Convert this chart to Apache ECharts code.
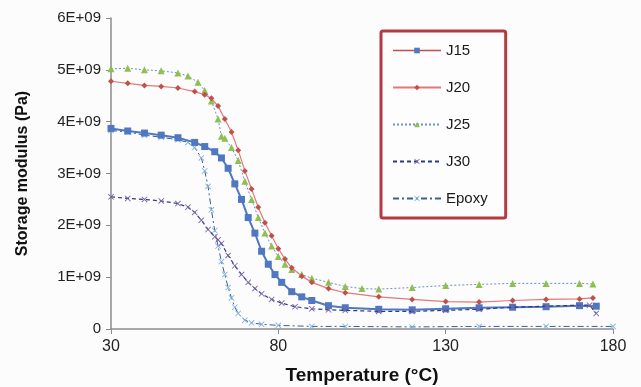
<!DOCTYPE html>
<html>
<head>
<meta charset="utf-8">
<script src="https://cdn.jsdelivr.net/npm/echarts@6/dist/echarts.min.js"></script>
<style>
  html, body { margin: 0; padding: 0; background: #fcfcfc; }
  #chart { width: 641px; height: 387px; }
</style>
</head>
<body>
<div id="chart"></div>
<script>
// temperatures (°C) and storage modulus (Pa)
const j15Temp = [30, 35, 40, 45, 50, 55, 58, 61, 63, 65, 67, 69, 71, 73, 75, 77, 79, 81, 84, 87, 90, 95, 100, 110, 120, 130, 140, 150, 160, 170, 175];
const j15Val = [3.87e9, 3.82e9, 3.78e9, 3.74e9, 3.69e9, 3.6e9, 3.52e9, 3.42e9, 3.3e9, 3.1e9, 2.8e9, 2.5e9, 2.15e9, 1.85e9, 1.5e9, 1.25e9, 1.05e9, 0.9e9, 0.72e9, 0.62e9, 0.55e9, 0.45e9, 0.41e9, 0.38e9, 0.37e9, 0.39e9, 0.41e9, 0.42e9, 0.43e9, 0.45e9, 0.44e9];

const j20Temp = [30, 35, 40, 45, 50, 55, 58, 60, 62, 64, 66, 68, 70, 72, 74, 76, 78, 80, 82, 84, 87, 90, 95, 100, 110, 120, 130, 140, 150, 160, 170, 174];
const j20Val = [4.78e9, 4.74e9, 4.7e9, 4.68e9, 4.65e9, 4.58e9, 4.52e9, 4.45e9, 4.3e9, 4.05e9, 3.8e9, 3.45e9, 3.05e9, 2.7e9, 2.35e9, 2.05e9, 1.8e9, 1.55e9, 1.35e9, 1.18e9, 1.02e9, 0.9e9, 0.78e9, 0.7e9, 0.62e9, 0.57e9, 0.53e9, 0.52e9, 0.55e9, 0.57e9, 0.58e9, 0.6e9];

const j25Temp = [30, 35, 40, 45, 50, 53, 56, 58, 60, 62, 63, 64, 66, 68, 70, 72, 74, 76, 78, 80, 82, 84, 87, 90, 95, 100, 105, 110, 120, 130, 140, 150, 160, 170, 174];
const j25Val = [5.02e9, 5.03e9, 5.0e9, 4.98e9, 4.94e9, 4.88e9, 4.76e9, 4.6e9, 4.4e9, 4.05e9, 3.72e9, 3.68e9, 3.5e9, 3.25e9, 2.85e9, 2.5e9, 2.15e9, 1.85e9, 1.6e9, 1.4e9, 1.25e9, 1.15e9, 1.05e9, 0.98e9, 0.9e9, 0.82e9, 0.78e9, 0.77e9, 0.8e9, 0.84e9, 0.86e9, 0.88e9, 0.88e9, 0.88e9, 0.87e9];

const j30Temp = [30, 35, 40, 45, 50, 53, 55, 57, 59, 61, 62, 63, 65, 67, 69, 71, 73, 75, 78, 81, 85, 90, 95, 100, 110, 120, 130, 140, 150, 160, 170, 173, 175];
const j30Val = [2.55e9, 2.52e9, 2.5e9, 2.47e9, 2.42e9, 2.35e9, 2.25e9, 2.1e9, 1.92e9, 1.78e9, 1.72e9, 1.65e9, 1.42e9, 1.22e9, 1.05e9, 0.9e9, 0.78e9, 0.68e9, 0.57e9, 0.5e9, 0.43e9, 0.39e9, 0.37e9, 0.36e9, 0.34e9, 0.34e9, 0.36e9, 0.38e9, 0.42e9, 0.44e9, 0.46e9, 0.46e9, 0.3e9];

const epoxyTemp = [30, 35, 40, 45, 50, 53, 55, 57, 58, 59, 60, 61, 62, 63, 64, 65, 66, 67, 68, 70, 72, 75, 80, 90, 100, 120, 140, 160, 180];
const epoxyVal = [3.83e9, 3.8e9, 3.74e9, 3.7e9, 3.65e9, 3.6e9, 3.5e9, 3.3e9, 3.05e9, 2.75e9, 2.3e9, 1.9e9, 1.6e9, 1.3e9, 1.05e9, 0.8e9, 0.6e9, 0.42e9, 0.3e9, 0.17e9, 0.12e9, 0.09e9, 0.07e9, 0.05e9, 0.05e9, 0.04e9, 0.05e9, 0.05e9, 0.05e9];

const seriesNames = ['J15', 'J20', 'J25', 'J30', 'Epoxy'];

function pairs(xs, ys) {
  return xs.map((x, i) => [x, ys[i]]);
}

// small "x" marker, drawn as a filled shape
const crossPath = 'path://M0,1L1,0L5,4L9,0L10,1L6,5L10,9L9,10L5,6L1,10L0,9L4,5Z';

const chart = echarts.init(document.getElementById('chart'));

const option = {
  backgroundColor: '#fcfcfc',
  animation: false,
  textStyle: { fontFamily: 'Liberation Sans, Arial, sans-serif' },
  grid: { left: 111, right: 28, top: 18, bottom: 58, outerBoundsMode: 'none' },
  legend: {
    orient: 'vertical',
    left: 381,
    top: 31,
    padding: [12, 18, 12, 11],
    itemWidth: 48,
    itemHeight: 7,
    itemGap: 22,
    borderColor: '#b23a40',
    borderWidth: 3,
    borderRadius: 2,
    backgroundColor: '#fdfdfd',
    textStyle: { fontSize: 15, color: '#1a1a1a' },
    data: [
      { name: 'J15', lineStyle: { color: '#c0504d', width: 1.5, type: 'solid' } },
      { name: 'J20' },
      { name: 'J25' },
      { name: 'J30' },
      { name: 'Epoxy' }
    ]
  },
  xAxis: {
    type: 'value',
    min: 30,
    max: 180,
    interval: 50,
    name: 'Temperature (°C)',
    nameLocation: 'middle',
    nameGap: 37,
    nameTextStyle: { fontSize: 19, fontWeight: 'bold', color: '#111' },
    axisLine: { lineStyle: { color: '#8c8c8c', width: 1.5 } },
    axisTick: { show: true, length: 5, lineStyle: { color: '#8c8c8c' } },
    axisLabel: { fontSize: 16, color: '#222', margin: 10 },
    splitLine: { show: false }
  },
  yAxis: {
    type: 'value',
    min: 0,
    max: 6e9,
    interval: 1e9,
    name: 'Storage modulus (Pa)',
    nameLocation: 'middle',
    nameGap: 80,
    nameTextStyle: { fontSize: 16, fontWeight: 'bold', color: '#111' },
    axisLine: { show: true, lineStyle: { color: '#8c8c8c', width: 1.5 } },
    axisTick: { show: true, length: 5, lineStyle: { color: '#8c8c8c' } },
    axisLabel: {
      fontSize: 15,
      color: '#222',
      margin: 10,
      formatter: v => v === 0 ? '0' : (v / 1e9) + 'E+09'
    },
    splitLine: { show: false }
  },
  series: [
    {
      name: seriesNames[0],
      type: 'line',
      data: pairs(j15Temp, j15Val),
      symbol: 'rect',
      symbolSize: 7,
      showAllSymbol: true,
      itemStyle: { color: '#4f78c0' },
      lineStyle: { color: '#4f78c0', width: 2 },
      z: 4
    },
    {
      name: seriesNames[1],
      type: 'line',
      data: pairs(j20Temp, j20Val),
      symbol: 'diamond',
      symbolSize: 6,
      showAllSymbol: true,
      itemStyle: { color: '#c0504d' },
      lineStyle: { color: '#e07a78', width: 1.2 },
      z: 3
    },
    {
      name: seriesNames[2],
      type: 'line',
      data: pairs(j25Temp, j25Val),
      symbol: 'triangle',
      symbolSize: 7,
      showAllSymbol: true,
      itemStyle: { color: '#8fbf4f' },
      lineStyle: { color: '#6d8fcf', width: 1, type: [2, 2] },
      z: 2
    },
    {
      name: seriesNames[3],
      type: 'line',
      data: pairs(j30Temp, j30Val),
      symbol: crossPath,
      symbolSize: 6,
      showAllSymbol: true,
      itemStyle: { color: '#7a5ea6' },
      lineStyle: { color: '#2a3d80', width: 1.2, type: [4, 3] },
      z: 5
    },
    {
      name: seriesNames[4],
      type: 'line',
      data: pairs(epoxyTemp, epoxyVal),
      symbol: crossPath,
      symbolSize: 6,
      showAllSymbol: true,
      itemStyle: { color: '#7fb0e0' },
      lineStyle: { color: '#3a5f9a', width: 1, type: [6, 3, 2, 3] },
      z: 1
    }
  ]
};

chart.setOption(option);
</script>
</body>
</html>
